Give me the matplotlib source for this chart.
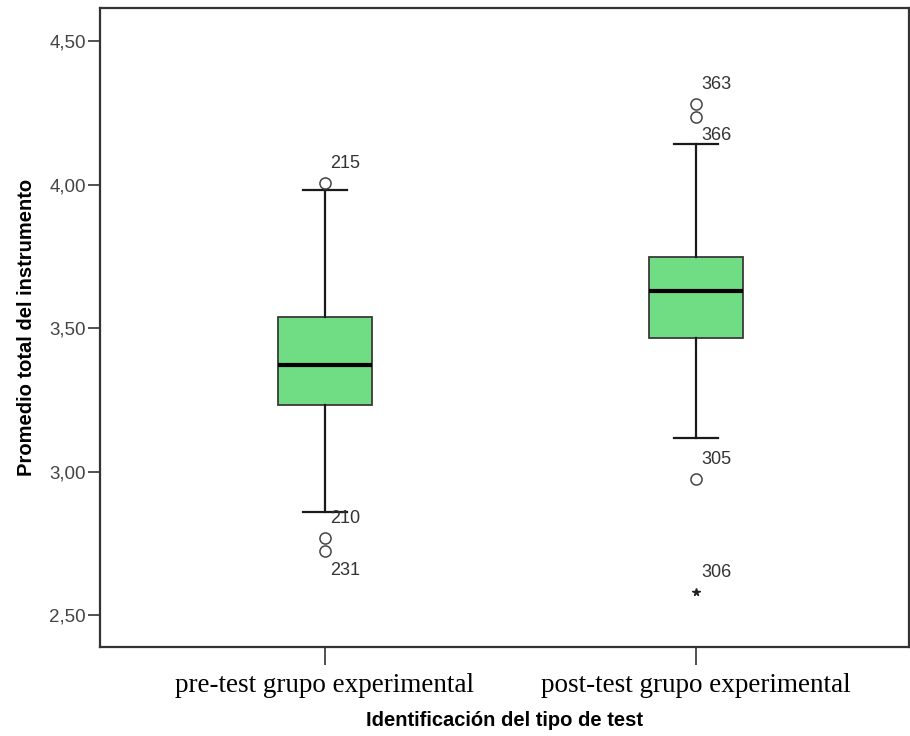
import numpy as np
import matplotlib
matplotlib.use("Agg")
import matplotlib.pyplot as plt
from matplotlib.ticker import FuncFormatter

# data
groups = ["pre-test grupo experimental", "post-test grupo experimental"]
q1 = [3.232, 3.465]
med = [3.371, 3.629]
q3 = [3.538, 3.746]
whislo = [2.859, 3.117]
whishi = [3.981, 4.141]

# circle outliers (value, case id) per group
out_vals = [[4.005, 2.768, 2.723], [4.282, 4.237, 2.975]]
out_ids = [["215", "210", "231"], ["363", "366", "305"]]
# label above (+1) or below (-1) the point
out_side = [[1, 1, -1], [1, -1, 1]]

# extreme outliers (star)
ext_vals = [[], [2.580]]
ext_ids = [[], ["306"]]

yticks = [2.5, 3.0, 3.5, 4.0, 4.5]

fig = plt.figure(figsize=(9.1, 7.36), dpi=100)
ax = fig.add_axes([100 / 910, 1 - 647 / 736, 809 / 910, 639 / 736])

stats = []
for i in range(len(groups)):
    stats.append({"med": med[i], "q1": q1[i], "q3": q3[i],
                  "whislo": whislo[i], "whishi": whishi[i],
                  "fliers": out_vals[i], "label": groups[i]})

pos = [1, 2]
ax.bxp(stats, positions=pos, widths=0.253, patch_artist=True,
       showfliers=True,
       boxprops=dict(facecolor="#70dc84", edgecolor="#3a3a3a", linewidth=1.3),
       medianprops=dict(color="black", linewidth=3),
       whiskerprops=dict(color="#1a1a1a", linewidth=1.6),
       capprops=dict(color="#1a1a1a", linewidth=1.6),
       capwidths=0.12,
       flierprops=dict(marker="o", markerfacecolor="none",
                       markeredgecolor="#444444", markersize=8,
                       markeredgewidth=1.1))

for i in range(len(groups)):
    for v, lab, s in zip(out_vals[i], out_ids[i], out_side[i]):
        ax.annotate(lab, (pos[i], v), xytext=(4, 14 * s), textcoords="offset points",
                    ha="left", va="center", fontsize=13, color="#333333",
                    family="Liberation Sans")
    for v, lab in zip(ext_vals[i], ext_ids[i]):
        ax.plot(pos[i], v, marker="*", color="#222222", markersize=5.5, linestyle="none")
        ax.annotate(lab, (pos[i], v), xytext=(4, 14), textcoords="offset points",
                    ha="left", va="center", fontsize=13, color="#333333",
                    family="Liberation Sans")

ax.set_xlim(0.394, 2.574)
ax.set_ylim(2.389, 4.615)
ax.set_yticks(yticks)
ax.yaxis.set_major_formatter(FuncFormatter(lambda v, p: ("%.2f" % v).replace(".", ",")))
ax.set_xticks(pos)
ax.set_xticklabels(groups, family="Liberation Serif", fontsize=19.5, color="black")
for t in ax.get_yticklabels():
    t.set_family("Liberation Sans")
    t.set_fontsize(13.5)
    t.set_color("#444444")

ax.tick_params(axis="y", direction="out", length=9, width=1.2, color="#333333", pad=1)
ax.tick_params(axis="x", direction="out", length=13, width=1.2, color="#333333", pad=6)

for sp in ax.spines.values():
    sp.set_color("#333333")
    sp.set_linewidth(1.6)

ax.set_ylabel("Promedio total del instrumento", fontsize=14.5, fontweight="bold",
              family="Liberation Sans", labelpad=10)
ax.set_xlabel("Identificación del tipo de test", fontsize=14.5, fontweight="bold",
              family="Liberation Sans", labelpad=9)

fig.savefig("out.png", dpi=100)
